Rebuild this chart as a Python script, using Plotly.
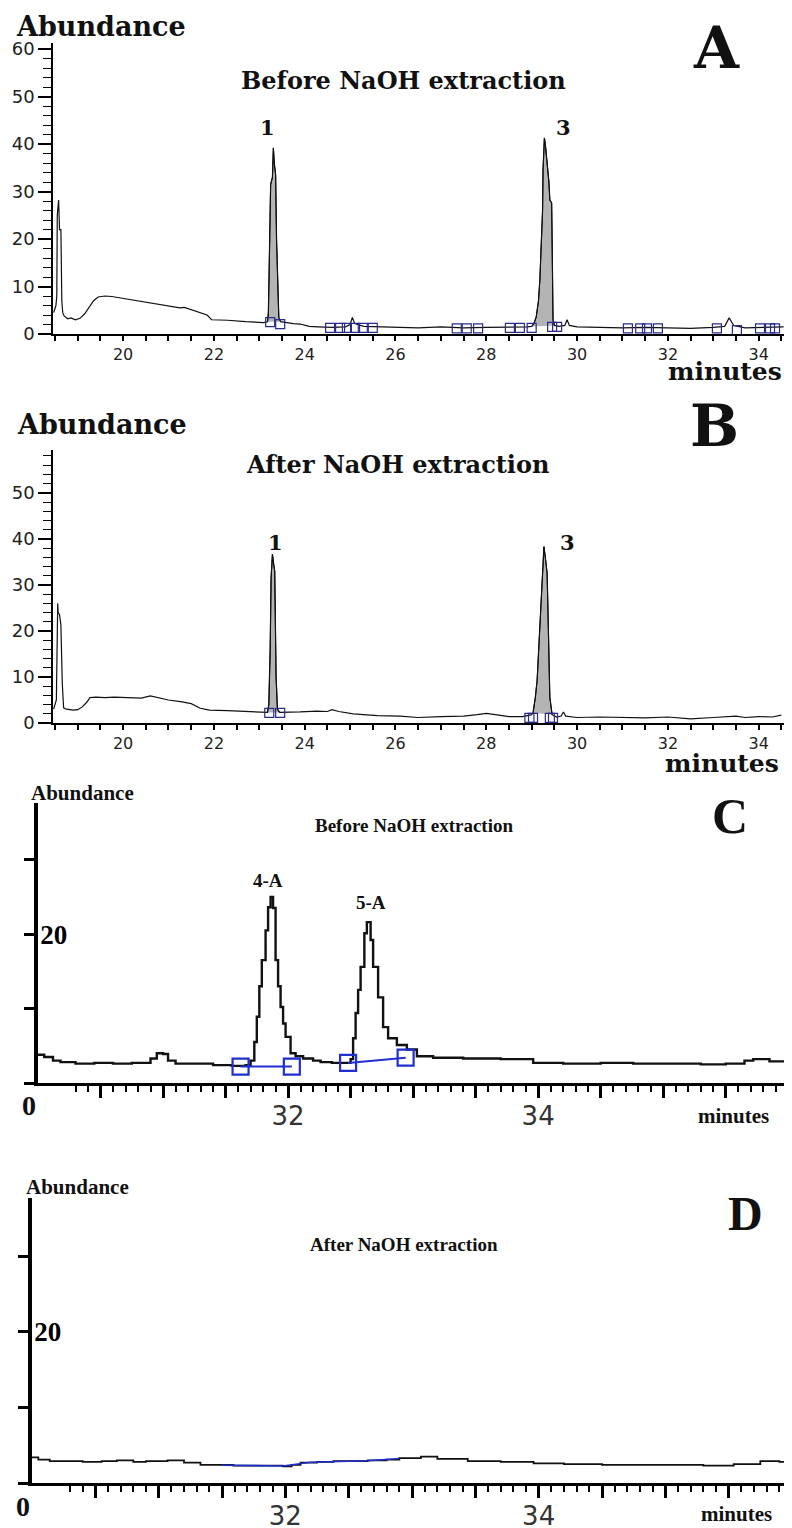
import plotly.graph_objects as go

W, H = 792, 1528
OFF = 8  # default page body margin; figure coordinates below are page pixels

# ---------------- Panel A : Before NaOH extraction (full run) ----------------
A_TIME = [18.47, 18.52, 18.54, 18.55, 18.58, 18.60, 18.63, 18.65, 18.67, 18.70,
          18.78, 18.85, 18.95, 19.05, 19.15, 19.25, 19.35, 19.45, 19.60, 19.75,
          20.00, 20.50, 21.00, 21.25, 21.35, 21.60, 21.85, 21.95, 22.30, 22.70,
          23.10, 23.18, 23.20, 23.22, 23.25, 23.29, 23.31, 23.33, 23.36, 23.38,
          23.40, 23.43, 23.47, 23.60, 23.75, 23.90, 24.10, 24.30, 24.60, 24.90,
          25.00, 25.05, 25.10, 25.30, 25.60, 26.00, 26.50, 27.00, 27.50, 28.00,
          28.50, 28.90, 29.00, 29.05, 29.10, 29.15, 29.18, 29.22, 29.24, 29.25,
          29.28, 29.30, 29.34, 29.38, 29.40, 29.44, 29.45, 29.46, 29.47, 29.50,
          29.60, 29.73, 29.78, 29.83, 30.00, 30.50, 31.00, 31.50, 32.00, 32.50,
          33.00, 33.25, 33.35, 33.45, 33.70, 34.00, 34.30, 34.55]
A_ABUND = [4.5, 6.0, 8.0, 25.0, 28.2, 22.0, 22.0, 7.0, 4.5, 3.8,
           3.2, 3.4, 3.0, 3.3, 4.2, 5.5, 7.0, 7.8, 8.0, 7.9,
           7.5, 6.8, 6.0, 5.5, 5.6, 4.8, 4.0, 3.0, 2.9, 2.6,
           2.4, 2.6, 4.4, 15.0, 31.5, 33.0, 39.2, 36.0, 33.5, 20.0,
           11.4, 3.5, 2.6, 2.4, 2.2, 2.1, 1.6, 1.5, 1.4, 1.5,
           2.0, 3.5, 2.2, 1.6, 1.5, 1.5, 1.3, 1.5, 1.3, 1.4,
           1.4, 1.5, 1.6, 2.2, 3.6, 7.0, 11.4, 20.0, 26.0, 34.5,
           41.3, 40.0, 36.6, 32.0, 28.2, 27.6, 20.0, 8.0, 3.0, 1.8,
           1.6, 1.8, 3.0, 1.8, 1.5, 1.4, 1.3, 1.4, 1.3, 1.2,
           1.4, 1.6, 3.4, 1.8, 1.3, 1.4, 1.5, 1.5]
A_PEAK_WINDOWS = [(23.18, 23.47), (29.00, 29.50)]
A_BOX_TIME = [23.24, 23.46, 24.56, 24.78, 24.93, 25.11, 25.28, 25.50,
              27.35, 27.57, 27.82, 28.52, 28.74, 29.00, 29.45, 29.56,
              31.12, 31.39, 31.54, 31.78, 33.08, 33.52, 34.03, 34.25, 34.36]
A_BOX_ABUND = [2.5, 2.1, 1.3, 1.3, 1.3, 1.3, 1.3, 1.3,
               1.2, 1.2, 1.2, 1.3, 1.3, 1.3, 1.5, 1.5,
               1.2, 1.2, 1.2, 1.2, 1.2, 0.8, 1.2, 1.2, 1.2]
A_PEAK_LABELS = ["1", "3"]
A_PEAK_LABEL_TIME = [23.17, 29.71]
A_PEAK_LABEL_ABUND = [43.4, 43.4]

# ---------------- Panel B : After NaOH extraction (full run) ----------------
B_TIME = [18.47, 18.53, 18.56, 18.57, 18.60, 18.63, 18.66, 18.69, 18.75, 18.90,
          19.00, 19.10, 19.20, 19.27, 19.40, 19.60, 19.80, 20.00, 20.20, 20.40,
          20.60, 20.80, 21.00, 21.30, 21.50, 21.70, 21.90, 22.30, 22.70, 23.10,
          23.18, 23.21, 23.24, 23.26, 23.29, 23.31, 23.34, 23.37, 23.40, 23.45,
          23.60, 23.90, 24.27, 24.50, 24.60, 24.75, 25.07, 25.60, 26.10, 26.50,
          27.00, 27.50, 27.80, 28.00, 28.20, 28.50, 28.80, 29.00, 29.03, 29.08,
          29.12, 29.16, 29.23, 29.27, 29.30, 29.34, 29.36, 29.40, 29.45, 29.55,
          29.65, 29.70, 29.75, 30.00, 30.50, 31.00, 31.50, 32.00, 32.50, 33.00,
          33.50, 33.70, 34.00, 34.30, 34.50]
B_ABUND = [3.0, 5.0, 26.0, 24.0, 23.5, 21.3, 8.7, 3.3, 3.0, 2.8,
           2.9, 3.5, 4.5, 5.5, 5.6, 5.5, 5.6, 5.5, 5.5, 5.4,
           5.9, 5.5, 5.0, 4.6, 4.2, 3.2, 2.8, 2.7, 2.5, 2.2,
           2.3, 4.0, 16.0, 31.5, 36.7, 34.8, 33.0, 10.0, 3.0, 2.3,
           2.3, 2.4, 2.6, 2.5, 2.9, 2.5, 2.0, 1.6, 1.5, 1.2,
           1.4, 1.5, 1.8, 2.1, 1.8, 1.4, 1.4, 1.8, 2.2, 5.5,
           9.3, 16.5, 29.6, 38.3, 36.0, 32.6, 24.0, 5.6, 1.8, 1.3,
           1.5, 2.4, 1.5, 1.2, 1.3, 1.2, 1.1, 1.3, 0.9, 1.2,
           1.5, 1.2, 1.4, 1.3, 1.7]
B_PEAK_WINDOWS = [(23.18, 23.45), (29.03, 29.45)]
B_BOX_TIME = [23.22, 23.46, 28.95, 29.03, 29.40, 29.47]
B_BOX_ABUND = [2.2, 2.2, 1.1, 1.1, 1.1, 1.1]
B_PEAK_LABELS = ["1", "3"]
B_PEAK_LABEL_TIME = [23.35, 29.78]
B_PEAK_LABEL_ABUND = [39.3, 39.1]

AB_XTICK_DTICK = 2

# ---------------- Panel C : Before NaOH extraction (zoom 30-36 min) ----------------
C_TIME = [30.00, 30.05, 30.12, 30.18, 30.30, 30.45, 30.60, 30.75, 30.85, 30.90,
          30.95, 31.00, 31.04, 31.10, 31.25, 31.40, 31.55, 31.66, 31.70, 31.73,
          31.75, 31.77, 31.79, 31.82, 31.84, 31.86, 31.88, 31.90, 31.92, 31.94,
          31.96, 31.98, 32.02, 32.06, 32.12, 32.20, 32.26, 32.35, 32.45, 32.50,
          32.52, 32.54, 32.56, 32.58, 32.61, 32.63, 32.66, 32.68, 32.72, 32.76,
          32.80, 32.87, 32.95, 33.03, 33.16, 33.40, 33.70, 33.96, 34.20, 34.50,
          34.76, 35.00, 35.30, 35.50, 35.65, 35.72, 35.85, 36.03]
C_ABUND = [3.8, 3.5, 3.0, 2.8, 2.6, 2.7, 2.6, 2.7, 2.7, 3.3,
           4.0, 3.9, 3.0, 2.6, 2.6, 2.4, 2.3, 2.4, 3.0, 5.5,
           8.9, 13.0, 16.5, 20.5, 23.6, 25.0, 23.5, 16.5, 13.0, 10.2,
           8.0, 6.2, 4.0, 3.6, 3.3, 3.0, 2.8, 2.7, 2.7, 3.2,
           6.0, 9.4, 12.5, 15.6, 20.1, 21.6, 19.2, 15.6, 11.5, 7.5,
           6.0, 5.1, 4.5, 3.6, 3.4, 3.3, 3.2, 2.7, 2.6, 2.7,
           2.6, 2.6, 2.5, 2.6, 3.0, 3.2, 2.9, 2.8]
C_BOX_TIME = [31.62, 32.03, None, 32.48, 32.94]
C_BOX_ABUND = [2.2, 2.2, None, 2.7, 3.4]
C_PEAK_LABELS = ["4-A", "5-A"]
C_PEAK_LABEL_TIME = [31.84, 32.66]
C_PEAK_LABEL_ABUND = [27.2, 24.2]

# ---------------- Panel D : After NaOH extraction (zoom 30-36 min) ----------------
D_TIME = [30.00, 30.05, 30.14, 30.25, 30.40, 30.55, 30.67, 30.80, 30.90, 31.07,
          31.20, 31.33, 31.45, 31.59, 31.80, 31.98, 32.05, 32.12, 32.25, 32.38,
          32.50, 32.65, 32.80, 32.90, 33.07, 33.20, 33.44, 33.70, 33.96, 34.20,
          34.50, 34.75, 35.00, 35.30, 35.54, 35.75, 35.90, 36.00]
D_ABUND = [3.4, 3.1, 2.9, 2.9, 2.8, 2.9, 3.0, 2.8, 2.9, 3.0,
           2.7, 2.4, 2.4, 2.3, 2.3, 2.2, 2.4, 2.7, 2.8, 2.9,
           2.9, 3.0, 3.1, 3.3, 3.5, 3.2, 2.9, 2.8, 2.6, 2.5,
           2.4, 2.4, 2.4, 2.3, 2.5, 2.9, 2.8, 2.8]
D_BASE_TIME = [31.50, 31.75, 31.98, 32.20, 32.40, 32.65, 32.90]
D_BASE_ABUND = [2.35, 2.3, 2.25, 2.75, 2.85, 2.95, 3.25]

CD_YTICKS = [0, 10, 20, 30]
CD_YTICKTEXT = ["", "", "20", ""]
CD_XLABEL_TICKS = [32, 34]

# ---------------- styling ----------------
WIDE_SERIF = "DejaVu Serif"
SERIF = "Liberation Serif"
SANS = "DejaVu Sans"
BOX_BLUE_AB = "#2a2a8c"
BOX_BLUE_CD = "#1f2fd0"

FW, FH = W - OFF, H - OFF


def px_x(p):
    return (p - OFF) / FW


def px_y(p):
    return 1 - (p - OFF) / FH


def window(ts, vs, lo, hi):
    xs, ys = [], []
    for t, v in zip(ts, vs):
        if lo <= t <= hi:
            xs.append(t)
            ys.append(v)
    return xs, ys


fig = go.Figure()

# ---- A & B traces ----
for xa, ya, ts, vs, wins, bt, bv in [
    ("x", "y", A_TIME, A_ABUND, A_PEAK_WINDOWS, A_BOX_TIME, A_BOX_ABUND),
    ("x2", "y2", B_TIME, B_ABUND, B_PEAK_WINDOWS, B_BOX_TIME, B_BOX_ABUND),
]:
    for lo, hi in wins:
        px_, py_ = window(ts, vs, lo, hi)
        fig.add_trace(go.Scatter(x=px_, y=py_, xaxis=xa, yaxis=ya, mode="lines",
                                 fill="toself", fillcolor="#b4b4b4",
                                 line=dict(color="black", width=1), hoverinfo="skip",
                                 showlegend=False))
    fig.add_trace(go.Scatter(x=ts, y=vs, xaxis=xa, yaxis=ya, mode="lines",
                             line=dict(color="#111111", width=1.2), showlegend=False))
    fig.add_trace(go.Scatter(x=bt, y=bv, xaxis=xa, yaxis=ya, mode="markers",
                             marker=dict(symbol="square-open", size=9,
                                         color=BOX_BLUE_AB, line=dict(width=1.2)),
                             showlegend=False))

# ---- C traces ----
fig.add_trace(go.Scatter(x=C_TIME, y=C_ABUND, xaxis="x3", yaxis="y3", mode="lines",
                         line=dict(color="#111111", width=2.4, shape="hv"), showlegend=False))
fig.add_trace(go.Scatter(x=C_BOX_TIME, y=C_BOX_ABUND, xaxis="x5", yaxis="y3",
                         mode="lines+markers",
                         line=dict(color=BOX_BLUE_CD, width=2),
                         marker=dict(symbol="square-open", size=16, color=BOX_BLUE_CD,
                                     line=dict(width=2.2)),
                         connectgaps=False, showlegend=False))

# ---- D traces ----
fig.add_trace(go.Scatter(x=D_TIME, y=D_ABUND, xaxis="x4", yaxis="y4", mode="lines",
                         line=dict(color="#111111", width=1.8, shape="hv"), showlegend=False))
fig.add_trace(go.Scatter(x=D_BASE_TIME, y=D_BASE_ABUND, xaxis="x6", yaxis="y4", mode="lines",
                         line=dict(color=BOX_BLUE_CD, width=1.6), showlegend=False))

# ---- axes ----
ab_x = dict(range=[18.456, 34.58], domain=[px_x(53), px_x(785)], showline=True,
            linecolor="black", linewidth=1.5, ticks="outside", ticklen=5, tickwidth=1.5,
            tickcolor="black", tick0=18, dtick=AB_XTICK_DTICK,
            minor=dict(dtick=0.5, tick0=18, ticks="outside", ticklen=5, tickwidth=1.5,
                       tickcolor="black"),
            tickfont=dict(family=SANS, size=16, color="#222"), automargin=False,
            showgrid=False, zeroline=False, fixedrange=True)
ab_y = dict(showline=True, linecolor="black", linewidth=1.5, ticks="outside", ticklen=13,
            tickwidth=1.5, tickcolor="black", tick0=0, dtick=10,
            minor=dict(dtick=2, ticks="outside", ticklen=8, tickwidth=1.2, tickcolor="black"),
            tickfont=dict(family=SANS, size=18, color="#222"), automargin=False,
            showgrid=False, zeroline=False, fixedrange=True)

fig.update_layout(
    xaxis=dict(ab_x, anchor="y"),
    yaxis=dict(ab_y, anchor="x", range=[0, 61.3], domain=[px_y(334), px_y(43)]),
    xaxis2=dict(ab_x, anchor="y2"),
    yaxis2=dict(ab_y, anchor="x2", range=[0, 59.3], domain=[px_y(723), px_y(450)]),
)

cd_x_main = dict(showline=True, linecolor="black", linewidth=2.5, ticks="outside",
                 ticklen=12, tickwidth=2.5, tickcolor="black", tick0=30, dtick=0.5,
                 showticklabels=False, automargin=False,
                 minor=dict(dtick=0.1, tick0=30, ticks="outside", ticklen=6, tickwidth=2,
                            tickcolor="black"),
                 showgrid=False, zeroline=False, fixedrange=True)
cd_x_lab = dict(showline=False, ticks="outside", ticklen=10, tickwidth=2.5, tickcolor="black",
                tickmode="array", tickvals=CD_XLABEL_TICKS,
                ticktext=[str(v) for v in CD_XLABEL_TICKS], automargin=False,
                tickfont=dict(family=SANS, size=26, color="#333"),
                showgrid=False, zeroline=False, fixedrange=True)
cd_y = dict(showline=True, linecolor="black", linewidth=3.5, ticks="outside", ticklen=10,
            tickwidth=2.5, tickcolor="black", tickmode="array", tickvals=CD_YTICKS,
            ticktext=CD_YTICKTEXT, ticklabelposition="inside", ticklabelstandoff=5,
            automargin=False,
            tickfont=dict(family=SERIF, size=27, color="black", weight="bold"),
            showgrid=False, zeroline=False, fixedrange=True)

c_dom = [px_x(38), 1.0]
d_dom = [px_x(32), 1.0]
fig.update_layout(
    xaxis3=dict(cd_x_main, anchor="y3", range=[30, 36.03], domain=c_dom),
    xaxis5=dict(cd_x_lab, anchor="y3", overlaying="x3", range=[30, 36.03], domain=c_dom),
    yaxis3=dict(cd_y, anchor="x3", range=[0, 37.6], domain=[px_y(1083), px_y(803)]),
    xaxis4=dict(cd_x_main, anchor="y4", range=[30, 36.0], domain=d_dom),
    xaxis6=dict(cd_x_lab, anchor="y4", overlaying="x4", range=[30, 36.0], domain=d_dom),
    yaxis4=dict(cd_y, anchor="x4", range=[0, 37.7], domain=[px_y(1483), px_y(1198)]),
)

# ---- annotations ----
ann = []


def text(t, x, y, size, family, xanchor="center", color="#111"):
    ann.append(dict(text=t, x=px_x(x), y=px_y(y), xref="paper", yref="paper",
                    showarrow=False, xanchor=xanchor, yanchor="middle",
                    font=dict(family=family, size=size, color=color, weight="bold")))


# A
text("Abundance", 14, 27, 27, WIDE_SERIF, xanchor="left")
text("Before NaOH extraction", 403, 80, 24, WIDE_SERIF)
text("A", 716, 48, 58, WIDE_SERIF)
text("minutes", 725, 372, 25, WIDE_SERIF)
# B
text("Abundance", 15, 425, 27, WIDE_SERIF, xanchor="left")
text("After NaOH extraction", 397, 464, 24, WIDE_SERIF)
text("B", 714, 426, 58, WIDE_SERIF)
text("minutes", 722, 763, 25, WIDE_SERIF)
# C
text("Abundance", 82, 793, 21, SERIF)
text("Before NaOH extraction", 414, 826, 19, SERIF)
text("C", 730, 816, 50, SERIF)
text("0", 29, 1105, 28, SERIF)
text("minutes", 733, 1116, 21, SERIF)
# D
text("Abundance", 77, 1187, 21, SERIF)
text("After NaOH extraction", 404, 1244, 19, SERIF)
text("D", 745, 1213, 48, SERIF)
text("0", 23, 1506, 28, SERIF)
text("minutes", 736, 1514, 21, SERIF)

# peak labels in data coordinates
for xr, yr, labels, ts, vs, size, fam in [
    ("x", "y", A_PEAK_LABELS, A_PEAK_LABEL_TIME, A_PEAK_LABEL_ABUND, 21, WIDE_SERIF),
    ("x2", "y2", B_PEAK_LABELS, B_PEAK_LABEL_TIME, B_PEAK_LABEL_ABUND, 21, WIDE_SERIF),
    ("x3", "y3", C_PEAK_LABELS, C_PEAK_LABEL_TIME, C_PEAK_LABEL_ABUND, 19, SERIF),
]:
    for lab, t, v in zip(labels, ts, vs):
        ann.append(dict(text=lab, x=t, y=v, xref=xr, yref=yr, showarrow=False,
                        xanchor="center", yanchor="middle",
                        font=dict(family=fam, size=size, color="#111", weight="bold")))

fig.update_layout(
    width=FW, height=FH, margin=dict(l=0, r=0, t=0, b=0, autoexpand=False),
    paper_bgcolor="white", plot_bgcolor="white",
    showlegend=False, annotations=ann,
)

fig.write_html("out.html")
